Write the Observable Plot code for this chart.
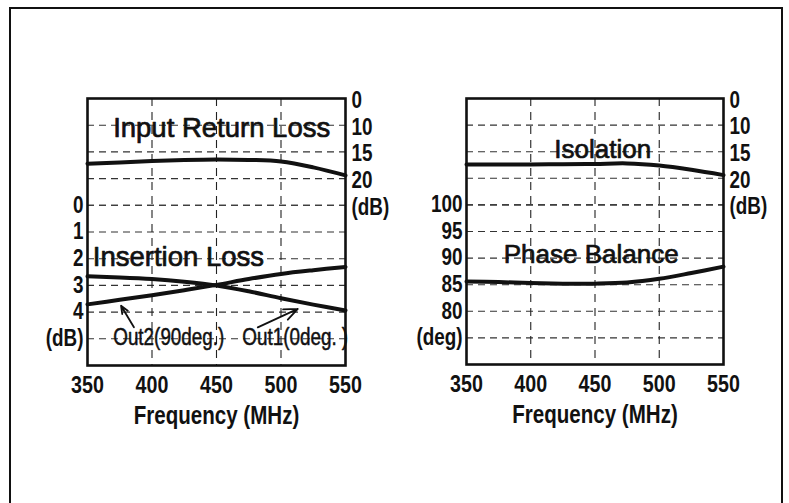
<!DOCTYPE html>
<html><head><meta charset="utf-8">
<script src="https://cdn.jsdelivr.net/npm/d3@7"></script>
<script src="https://cdn.jsdelivr.net/npm/@observablehq/plot@0.6"></script>
<style>
html,body{margin:0;padding:0;background:#fff;}
#wrap{position:relative;width:789px;height:503px;overflow:hidden;background:#fff;}
#frame{position:absolute;left:9.3px;top:6.7px;width:774px;height:520px;border:2.7px solid #111;box-sizing:border-box;}
.panel{position:absolute;top:0;}
</style></head>
<body>
<div id="wrap">
  <div id="frame"></div>
  <div id="left" class="panel" style="left:0px"></div>
  <div id="right" class="panel" style="left:395px"></div>
</div>
<script>
// ---- data ----
const freq = [350, 375, 400, 425, 450, 475, 500, 525, 550];
const returnLoss = [17.2, 17.0, 16.7, 16.5, 16.4, 16.5, 16.8, 17.9, 19.4];   // dB
const out1Loss   = [2.66, 2.70, 2.76, 2.86, 3.00, 3.22, 3.48, 3.72, 3.94];   // dB, Out1 (0deg.)
const out2Loss   = [3.71, 3.54, 3.37, 3.18, 2.98, 2.76, 2.57, 2.43, 2.31];   // dB, Out2 (90deg.)
const isolation  = [17.4, 17.4, 17.4, 17.35, 17.3, 17.2, 17.6, 18.4, 19.4];  // dB
const phase      = [85.6, 85.5, 85.3, 85.2, 85.2, 85.4, 86.1, 87.2, 88.4];   // deg

const xTicks = [350, 400, 450, 500, 550];
const xGrid = [400, 450, 500];
const ilTicks = [0, 1, 2, 3, 4];          const ilUnit = "(dB)";
const rlTicks = [10, 15, 20];             const rlUnit = "(dB)";   // upper axis, broken above 10 (top = 0)
const phTicks = [100, 95, 90, 85, 80];    const phUnit = "(deg)";
const xTitle = "Frequency (MHz)";

const NARROW = '"Liberation Sans Narrow","Liberation Sans",Arial,sans-serif';
const SANS = '"Liberation Sans",Arial,Helvetica,sans-serif';
const xMin = freq[0], xMax = freq[freq.length - 1];

function panel(opts) {
  const {width, marginLeft, marginRight, marginBottom, yDomain, toPos, leftTicks, leftUnit, unitStep,
         rightUnitPos, topPos, series, labels, arrows} = opts;
  const leftTickData = leftTicks.map(v => ({v, label: String(v)}));
  leftTickData.push({v: leftTicks[leftTicks.length - 1] + unitStep, label: leftUnit});
  const rightTickData = [{v: topPos, label: "0"}]
    .concat(rlTicks.map(v => ({v: toPos(v), label: String(v)})))
    .concat([{v: rightUnitPos, label: rlUnit}]);
  const grid = leftTickData.map(d => d.v).concat(rightTickData.map(d => d.v))
    .filter(v => v !== topPos);
  const marks = [
    Plot.ruleY(grid, {stroke: "#333", strokeWidth: 1.1, strokeDasharray: "7,5"}),
    Plot.ruleX(xGrid, {stroke: "#222", strokeWidth: 1.1, strokeDasharray: "8,6"}),
  ];
  for (const s of series) {
    marks.push(Plot.line(freq.map((f, i) => ({f, v: s.values[i]})),
      {x: "f", y: d => s.map(d.v), stroke: "#111", strokeWidth: 4, curve: "catmull-rom"}));
  }
  for (const l of labels) {
    marks.push(Plot.text([l], {x: "x", y: "y", text: "text", fontSize: l.size, fontFamily: l.font,
      fill: "#111", stroke: "#111", strokeWidth: l.weight}));
  }
  if (arrows) marks.push(Plot.arrow(arrows, {x1: "x1", y1: "y1", x2: "x2", y2: "y2", stroke: "#111",
      strokeWidth: 1.8, headLength: 13, headAngle: 45}));
  marks.push(
    Plot.frame({stroke: "#111", strokeWidth: 2.6}),
    Plot.text(leftTickData, {x: () => xMin, y: "v", text: "label", dx: -4, textAnchor: "end",
      fontSize: 23, fontFamily: NARROW, fontWeight: "bold", fill: "#111"}),
    Plot.text(rightTickData, {x: () => xMax, y: "v", text: "label", dx: 6, dy: 2, textAnchor: "start",
      fontSize: 23, fontFamily: NARROW, fontWeight: "bold", fill: "#111"}),
    Plot.text(xTicks, {x: d => d, y: () => yDomain[0], dy: 20, text: d => String(d),
      fontSize: 24, fontFamily: NARROW, fontWeight: "bold", fill: "#111"}),
    Plot.text([xTitle], {x: () => 450, y: () => yDomain[0], dy: 50, text: d => d,
      fontSize: 26, fontFamily: NARROW, fontWeight: "bold", fill: "#111"})
  );
  return Plot.plot({
    width, height: 503, marginLeft, marginRight, marginTop: 98, marginBottom,
    x: {domain: [xMin, xMax], axis: null},
    y: {domain: yDomain, axis: null},
    style: {background: "transparent", overflow: "visible"},
    marks
  });
}

// Emulate a narrow (condensed) face: compress glyphs of the "Narrow" text marks
function condense(svg) {
  svg.querySelectorAll('g[font-family*="Narrow"] text').forEach(t => {
    const w = t.getComputedTextLength();
    const k = t.textContent === xTitle ? 0.79 : 0.82;
    t.setAttribute("textLength", (w * k).toFixed(1));
    t.setAttribute("lengthAdjust", "spacingAndGlyphs");
  });
}

// Left panel: common y in insertion-loss units; return loss drawn on the broken right axis
const rlToIL = v => (v - 25) / 5;
const leftSvg = panel({
  width: 395, marginLeft: 87, marginRight: 50, marginBottom: 138,
  yDomain: [6, -4], toPos: rlToIL, leftTicks: ilTicks, leftUnit: ilUnit, unitStep: 1,
  rightUnitPos: 0, topPos: -4,
  series: [
    {values: returnLoss, map: rlToIL},
    {values: out1Loss, map: v => v},
    {values: out2Loss, map: v => v}
  ],
  labels: [
    {x: 454, y: -2.9, text: "Input Return Loss", size: 27.5, font: SANS, weight: 0.7},
    {x: 420.5, y: 1.94, text: "Insertion Loss", size: 27.5, font: SANS, weight: 0.7},
    {x: 413, y: 4.96, text: "Out2(90deg.)", size: 23, font: NARROW, weight: 0.5},
    {x: 511, y: 4.96, text: "Out1(0deg. )", size: 23, font: NARROW, weight: 0.5}
  ],
  arrows: [
    {x1: 386, y1: 4.57, x2: 376, y2: 3.76},
    {x1: 482, y1: 4.57, x2: 513, y2: 3.88}
  ]
});
document.getElementById("left").append(leftSvg);
condense(leftSvg);

// Right panel: common y in phase-balance degrees; isolation on the broken right axis
const isoToDeg = v => 125 - v;
const rightSvg = panel({
  width: 394, marginLeft: 71, marginRight: 66, marginBottom: 139,
  yDomain: [70, 120], toPos: isoToDeg, leftTicks: phTicks, leftUnit: phUnit, unitStep: -5,
  rightUnitPos: 100, topPos: 120,
  series: [
    {values: isolation, map: isoToDeg},
    {values: phase, map: v => v}
  ],
  labels: [
    {x: 456, y: 110.3, text: "Isolation", size: 26, font: SANS, weight: 0.7},
    {x: 447, y: 90.7, text: "Phase Balance", size: 26, font: SANS, weight: 0.7}
  ]
});
document.getElementById("right").append(rightSvg);
condense(rightSvg);
</script>
</body></html>
